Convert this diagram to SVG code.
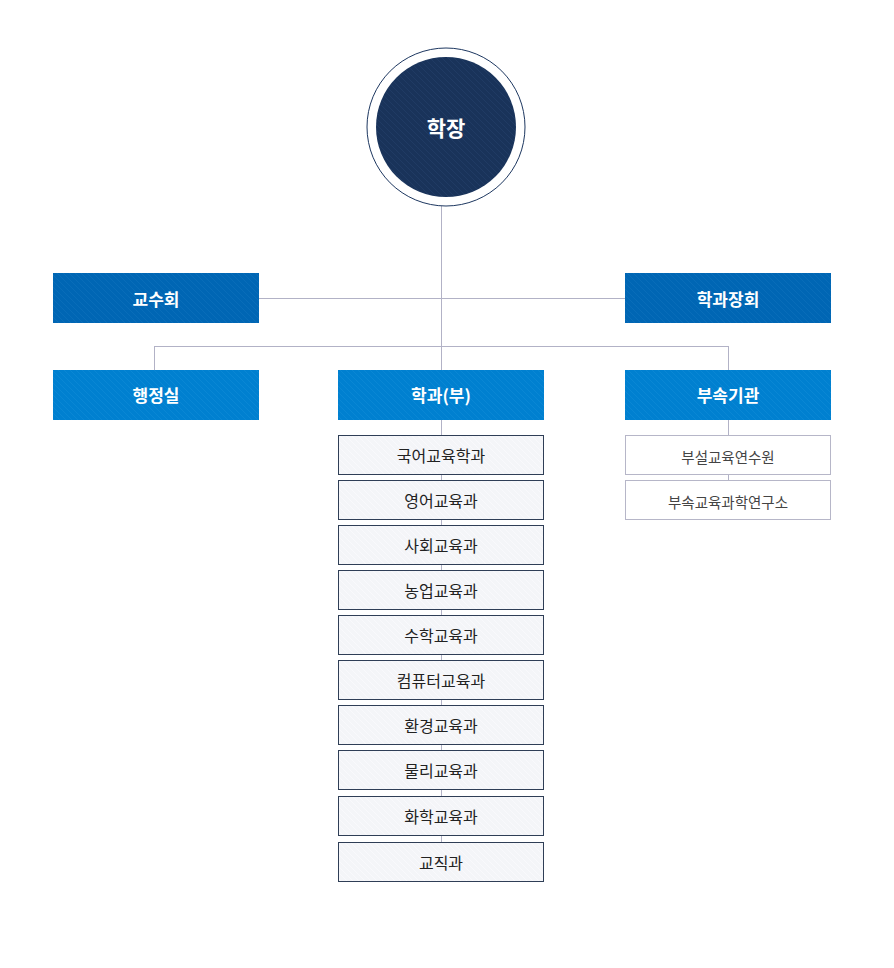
<svg xmlns="http://www.w3.org/2000/svg" width="894" height="968" viewBox="0 0 894 968">
<style>
text{font-family:"Noto Sans CJK KR","Noto Sans",sans-serif;text-anchor:middle;dominant-baseline:central}
.w{fill:#fff;font-size:17px;font-weight:bold}
.d{fill:#222;font-size:16px}
.s{fill:#444;font-size:14.5px}
.ln{stroke:#b2b2c6;stroke-width:1;fill:none}
.dep{stroke:#2f3e56;stroke-width:1}
.sub{fill:#fff;stroke:#b6b6c8;stroke-width:1}
</style>
<defs>
<pattern id="hN" width="6" height="6" patternUnits="userSpaceOnUse"><rect width="6" height="6" fill="#19335a"/><path d="M0 0L6 6" stroke="#233f68" stroke-width="0.7"/></pattern>
<pattern id="hD" width="6" height="6" patternUnits="userSpaceOnUse"><rect width="6" height="6" fill="#0066b4"/><path d="M0 0L6 6" stroke="#0d70bc" stroke-width="0.7"/></pattern>
<pattern id="hB" width="6" height="6" patternUnits="userSpaceOnUse"><rect width="6" height="6" fill="#0080d0"/><path d="M0 0L6 6" stroke="#0e89d5" stroke-width="0.7"/></pattern>
<pattern id="hL" width="6" height="6" patternUnits="userSpaceOnUse"><rect width="6" height="6" fill="#f4f5f8"/><path d="M0 0L6 6" stroke="#fbfbfd" stroke-width="0.7"/></pattern>
</defs>
<g id="connectors">
<path class="ln" d="M441.5 206V370M259 298.5H625M154.5 346.5H728.5M154.5 346V370M728.5 346V370M441.5 420V882M728.5 420V480"/>
</g>
<g id="president">
<circle cx="446" cy="127" r="79" fill="#fff" stroke="#1d3760" stroke-width="1"/>
<circle cx="446" cy="127" r="70" fill="url(#hN)"/>
<text x="446" y="127" fill="#fff" font-size="21" font-weight="bold">학장</text>
</g>
<g id="faculty-council"><rect x="53" y="273" width="206" height="50" fill="url(#hD)"/><text class="w" x="156" y="298">교수회</text></g>
<g id="chairs-council"><rect x="625" y="273" width="206" height="50" fill="url(#hD)"/><text class="w" x="728" y="298">학과장회</text></g>
<g id="admin"><rect x="53" y="370" width="206" height="50" fill="url(#hB)"/><text class="w" x="156" y="394.5">행정실</text></g>
<g id="departments"><rect x="338" y="370" width="206" height="50" fill="url(#hB)"/><text class="w" x="441" y="394.5">학과(부)</text></g>
<g id="affiliates"><rect x="625" y="370" width="206" height="50" fill="url(#hB)"/><text class="w" x="728" y="394.5">부속기관</text></g>
<g id="d1"><rect class="dep" x="338.5" y="435.5" width="205" height="39" fill="url(#hL)"/><text class="d" x="441" y="455">국어교육학과</text></g>
<g id="d2"><rect class="dep" x="338.5" y="480.5" width="205" height="39" fill="url(#hL)"/><text class="d" x="441" y="500">영어교육과</text></g>
<g id="d3"><rect class="dep" x="338.5" y="525.5" width="205" height="39" fill="url(#hL)"/><text class="d" x="441" y="545">사회교육과</text></g>
<g id="d4"><rect class="dep" x="338.5" y="570.5" width="205" height="39" fill="url(#hL)"/><text class="d" x="441" y="590">농업교육과</text></g>
<g id="d5"><rect class="dep" x="338.5" y="615.5" width="205" height="39" fill="url(#hL)"/><text class="d" x="441" y="635">수학교육과</text></g>
<g id="d6"><rect class="dep" x="338.5" y="660.5" width="205" height="39" fill="url(#hL)"/><text class="d" x="441" y="680">컴퓨터교육과</text></g>
<g id="d7"><rect class="dep" x="338.5" y="705.5" width="205" height="39" fill="url(#hL)"/><text class="d" x="441" y="725">환경교육과</text></g>
<g id="d8"><rect class="dep" x="338.5" y="750.5" width="205" height="39" fill="url(#hL)"/><text class="d" x="441" y="770">물리교육과</text></g>
<g id="d9"><rect class="dep" x="338.5" y="796.5" width="205" height="39" fill="url(#hL)"/><text class="d" x="441" y="816">화학교육과</text></g>
<g id="d10"><rect class="dep" x="338.5" y="842.5" width="205" height="39" fill="url(#hL)"/><text class="d" x="441" y="862">교직과</text></g>
<g id="a1"><rect class="sub" x="625.5" y="435.5" width="205" height="39"/><text class="s" x="728" y="456">부설교육연수원</text></g>
<g id="a2"><rect class="sub" x="625.5" y="480.5" width="205" height="39"/><text class="s" x="728" y="501">부속교육과학연구소</text></g>
</svg>
